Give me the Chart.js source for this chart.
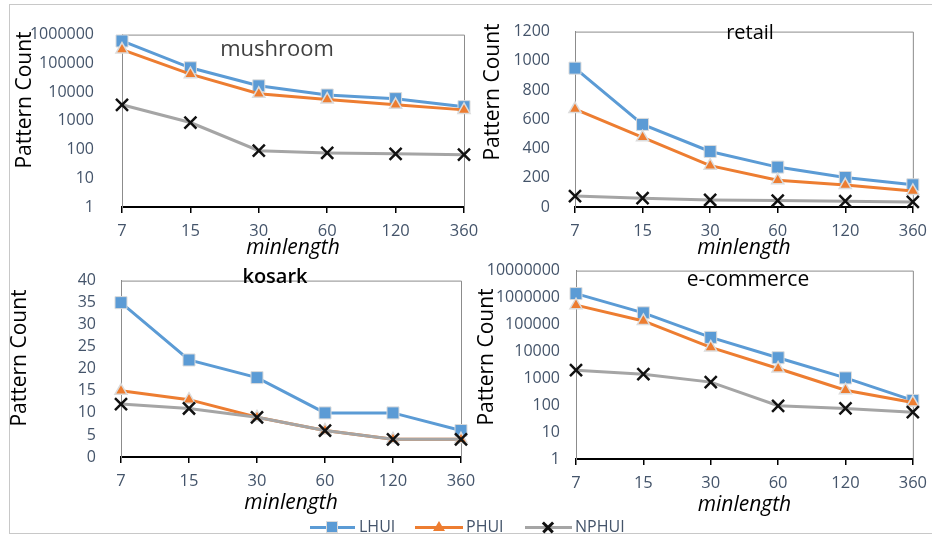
<!DOCTYPE html>
<html>
<head>
<meta charset="utf-8">
<script src="https://cdn.jsdelivr.net/npm/chart.js@4.4.1/dist/chart.umd.min.js"></script>
<style>
    html, body { margin: 0; padding: 0; background: #fff; overflow: hidden; }
    #wrap { position: relative; width: 932px; height: 537px; }
    #frame { position: absolute; left: 9px; top: 4px; width: 940px; height: 528px; border: 1px solid #c8c8c8; }
    canvas { position: absolute; }
    .legend { position: absolute; top: 518px; height: 18px; font: 16px "Open Sans", sans-serif; color: #44546A; }
    .item { position: absolute; top: 0; height: 18px; }
    .item .ln { position: absolute; top: 8px; height: 3px; }
    .item .txt { position: absolute; top: -3px; white-space: nowrap; }
    .sq { position: absolute; top: 4px; width: 10px; height: 10px; background: #5B9BD5; box-shadow: 0 0 0 1px #dcdcdc; }
    .tri { position: absolute; top: 3px; width: 0; height: 0; border-left: 6px solid transparent; border-right: 6px solid transparent; border-bottom: 10px solid #ED7D31; }
    .xb { position: absolute; top: 8px; width: 14px; height: 2.5px; background: #111; }
</style>
</head>
<body>
<div id="wrap">
    <div id="frame"></div>
    <canvas id="mushroom" width="480" height="255" style="left:10px;top:5px"></canvas>
    <canvas id="retail" width="460" height="255" style="left:475px;top:5px"></canvas>
    <canvas id="kosark" width="480" height="263" style="left:10px;top:254px"></canvas>
    <canvas id="ecommerce" width="460" height="264" style="left:475px;top:253px"></canvas>
    <div class="legend" style="left:0;width:932px">
        <div class="item" style="left:310px">
            <div class="ln" style="left:0;width:45px;background:#5B9BD5"></div>
            <div class="sq" style="left:17px"></div>
            <div class="txt" style="left:49px">LHUI</div>
        </div>
        <div class="item" style="left:415px">
            <div class="ln" style="left:0;width:48px;background:#ED7D31"></div>
            <div class="tri" style="left:18px"></div>
            <div class="txt" style="left:51px">PHUI</div>
        </div>
        <div class="item" style="left:525px">
            <div class="ln" style="left:0;width:47px;background:#A5A5A5"></div>
            <div class="xb" style="left:16px;transform:rotate(45deg)"></div>
            <div class="xb" style="left:16px;transform:rotate(-45deg)"></div>
            <div class="txt" style="left:50px">NPHUI</div>
        </div>
    </div>
</div>

<script>
// x categories shared by all panels
const minlength = ['7', '15', '30', '60', '120', '360'];

const mushroomLHUI = [600000, 70000, 16500, 7900, 5900, 3100];
const mushroomPHUI = [300000, 42000, 8700, 5500, 3600, 2400];
const mushroomNPHUI = [3600, 870, 91, 76, 71, 66];

const retailLHUI = [950, 565, 380, 273, 202, 152];
const retailPHUI = [670, 477, 283, 183, 150, 110];
const retailNPHUI = [75, 60, 48, 44, 40, 35];

const kosarkLHUI = [35, 22, 18, 10, 10, 6];
const kosarkPHUI = [15, 13, 9, 6, 4, 4];
const kosarkNPHUI = [12, 11, 9, 6, 4, 4];

const ecomLHUI = [1400000, 270000, 33000, 5800, 1030, 150];
const ecomPHUI = [520000, 135000, 14000, 2300, 360, 125];
const ecomNPHUI = [2000, 1420, 720, 95, 76, 55];

const tickColor = '#44546A';
const fontFamily = '"Open Sans", sans-serif';

// panel title + rotated y title, drawn inside the canvas
const overlayText = {
    id: 'overlayText',
    beforeDatasetsDraw(chart) {
        // top and right border of the plot
        const a = chart.chartArea, ctx = chart.ctx;
        ctx.save();
        ctx.strokeStyle = '#8c8c8c';
        ctx.lineWidth = 1;
        ctx.beginPath();
        ctx.moveTo(a.left, a.top + 0.5);
        ctx.lineTo(a.right + 0.5, a.top + 0.5);
        ctx.lineTo(a.right + 0.5, a.bottom);
        ctx.stroke();
        ctx.restore();
    },
    afterDraw(chart, args, opts) {
        let ctx = chart.ctx;
        ctx.save();
        ctx.textAlign = 'center';
        ctx.textBaseline = 'middle';
        ctx.font = opts.titleFont;
        ctx.fillStyle = opts.titleColor;
        ctx.fillText(opts.title, opts.titleX, opts.titleY);
        ctx.translate(opts.yTitleX, opts.yTitleY);
        ctx.rotate(-Math.PI / 2);
        ctx.font = '21px ' + fontFamily;
        ctx.fillStyle = '#000';
        ctx.fillText('Pattern Count', 0, 0);
        ctx.restore();
    }
};

function makeDatasets(lhui, phui, nphui) {
    return [{
            label: 'LHUI',
            data: lhui,
            borderColor: '#5B9BD5',
            backgroundColor: '#5B9BD5',
            pointBorderColor: '#dcdcdc',
            pointBorderWidth: 1,
            pointStyle: 'rect',
            pointRadius: 8.5,
            borderWidth: 3,
            order: 3,
            clip: false
        }, {
            label: 'PHUI',
            data: phui,
            borderColor: '#ED7D31',
            backgroundColor: '#ED7D31',
            pointBorderColor: '#dcdcdc',
            pointBorderWidth: 1.5,
            pointStyle: 'triangle',
            pointRadius: 7,
            borderWidth: 3,
            order: 2,
            clip: false
        }, {
            label: 'NPHUI',
            data: nphui,
            borderColor: '#A5A5A5',
            backgroundColor: '#111',
            pointBorderColor: '#111',
            pointBorderWidth: 2.5,
            pointStyle: 'crossRot',
            pointRadius: 8.5,
            borderWidth: 3,
            order: 1,
            clip: false
        }];
}

function panelChart(id, lhui, phui, nphui, p) {
    let yScale = {
        grid: {display: false},
        border: {color: '#8c8c8c', width: 1},
        ticks: {color: tickColor, font: {family: fontFamily, size: 16}, padding: p.yPad,
            autoSkip: false, callback: v => String(v)},
        afterFit: s => { s.width = p.yWidth; }
    };
    if (p.log) {
        yScale.type = 'logarithmic';
        yScale.min = 1;
        yScale.max = p.max;
        yScale.afterBuildTicks = s => {
            let t = [];
            for (let v = 1; v <= p.max; v *= 10)
                t.push({value: v});
            s.ticks = t;
        };
    } else {
        yScale.min = 0;
        yScale.max = p.max;
        yScale.ticks.stepSize = p.step;
    }
    const config = {
        type: 'line',
        data: {labels: minlength, datasets: makeDatasets(lhui, phui, nphui)},
        options: {
            responsive: false,
            animation: false,
            layout: {padding: {left: 0, top: 10, right: p.padRight, bottom: 0}},
            elements: {line: {tension: 0}},
            plugins: {
                legend: {display: false},
                tooltip: {enabled: false},
                overlayText: p.text
            },
            scales: {
                x: {
                    offset: false,
                    grid: {drawOnChartArea: false, drawTicks: true, tickLength: 6, color: '#000', lineWidth: 1.5},
                    border: {color: '#000', width: 2},
                    ticks: {color: tickColor, font: {family: fontFamily, size: 16.5}, padding: 8, maxRotation: 0, autoSkip: false},
                    title: {display: true, text: 'minlength', color: '#000',
                        font: {family: fontFamily, size: 21, style: 'italic'}, padding: {top: 0, bottom: p.xTitlePad}},
                    afterFit: s => { s.height = p.xHeight; }
                },
                y: yScale
            }
        },
        plugins: [overlayText]
    };
    let ctx = document.getElementById(id).getContext('2d');
    new Chart(ctx, config);
}

panelChart('mushroom', mushroomLHUI, mushroomPHUI, mushroomNPHUI, {
    log: true, max: 1000000, yWidth: 112, yPad: 20, padRight: 26, xHeight: 53, xTitlePad: -1,
    text: {title: 'mushroom', titleFont: '22px ' + fontFamily, titleColor: '#404040',
        titleX: 267, titleY: 45, yTitleX: 15, yTitleY: 95}
});

panelChart('retail', retailLHUI, retailPHUI, retailNPHUI, {
    log: false, max: 1200, step: 200, yWidth: 100, yPad: 17, padRight: 18, xHeight: 53, xTitlePad: -1,
    text: {title: 'retail', titleFont: '500 20px ' + fontFamily, titleColor: '#000',
        titleX: 275, titleY: 28, yTitleX: 18, yTitleY: 87}
});

panelChart('kosark', kosarkLHUI, kosarkPHUI, kosarkNPHUI, {
    log: false, max: 40, step: 5, yWidth: 111, yPad: 17, padRight: 29, xHeight: 60, xTitlePad: 1,
    text: {title: 'kosark', titleFont: '600 20px ' + fontFamily, titleColor: '#000',
        titleX: 265, titleY: 23, yTitleX: 10, yTitleY: 104}
});

panelChart('ecommerce', ecomLHUI, ecomPHUI, ecomNPHUI, {
    log: true, max: 10000000, yWidth: 101, yPad: 8, padRight: 16, xHeight: 58, xTitlePad: -1,
    text: {title: 'e-commerce', titleFont: '21px ' + fontFamily, titleColor: '#000',
        titleX: 273, titleY: 27, yTitleX: 12, yTitleY: 104}
});
</script>
</body>
</html>
